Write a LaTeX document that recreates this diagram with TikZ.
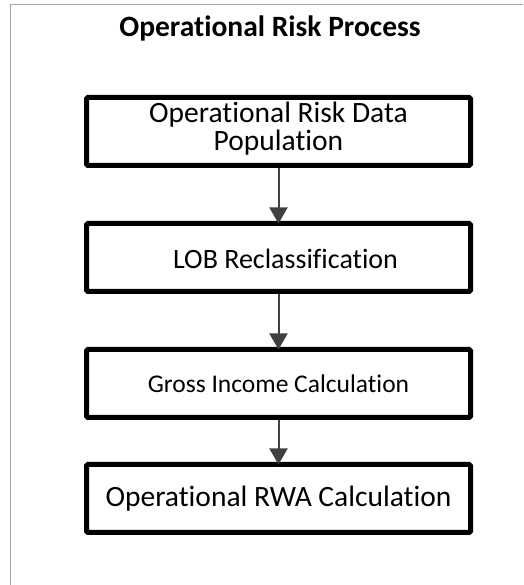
\documentclass[tikz,border=0pt]{standalone}
\usepackage{fontspec}
\setmainfont[Ligatures=NoCommon]{Carlito}
\usetikzlibrary{arrows.meta}
\definecolor{framegray}{HTML}{A6A6A6}
\definecolor{arrowgray}{HTML}{404040}
\tikzset{
  procbox/.style={draw=black, line width=5pt, rounded corners=1.5pt, minimum width=384pt, minimum height=68pt, inner sep=0pt, align=center, font=\fontsize{29.5}{28}\selectfont},
  boxtext/.style={inner sep=0pt, align=center, font=\fontsize{29.5}{28}\selectfont},
  flow/.style={draw=arrowgray, line width=2pt, -{Triangle[length=16pt,width=18pt]}},
  titletext/.style={font=\fontsize{29.5}{32}\selectfont\bfseries}
}
\begin{document}
\begin{tikzpicture}[x=1pt,y=1pt]
\useasboundingbox (0,0) rectangle (523,585);
\draw[framegray, line width=1pt] (10,0) -- (10,580) -- (523,580);
\node[titletext] (title) at (270,557) {Operational Risk Process};
\node[procbox] (b1) at (278.5,453.5) {};
\node[boxtext] (t1) at ([yshift=3pt]b1.center) {Operational Risk Data\\Population};
\node[procbox] (b2) at (278.5,327.5) {};
\node[boxtext, font=\fontsize{28}{30}\selectfont] (t2) at ([xshift=7pt,yshift=-1pt]b2.center) {LOB Reclassification};
\node[procbox, font=\fontsize{25.5}{28}\selectfont] (b3) at (278.5,201.5) {Gross Income Calculation};
\node[procbox] (b4) at (278.5,86.5) {Operational RWA Calculation};
\draw[flow] (b1.south) -- ([yshift=-2.5pt]b2.north);
\draw[flow] (b2.south) -- ([yshift=-2.5pt]b3.north);
\draw[flow] (b3.south) -- ([yshift=-2.5pt]b4.north);
\end{tikzpicture}
\end{document}
